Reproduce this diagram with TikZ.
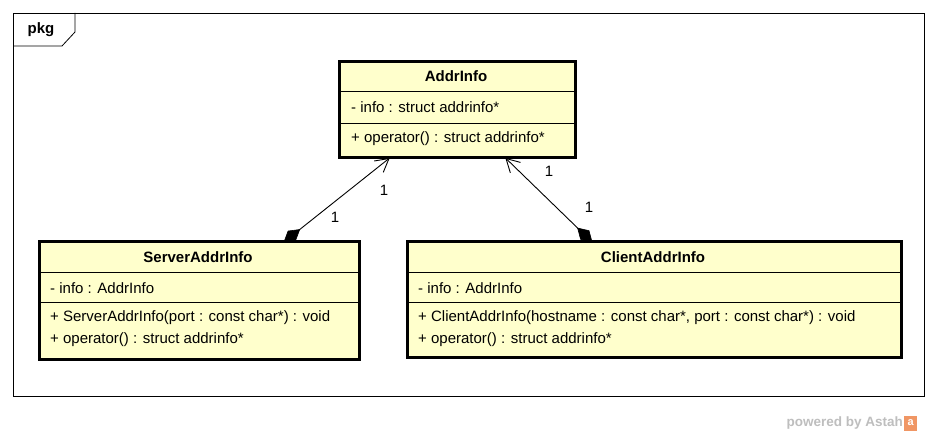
\documentclass[tikz,border=0pt]{standalone}
\usepackage{fontspec}
\setmainfont{Liberation Sans}
\usetikzlibrary{calc}
\definecolor{classfill}{RGB}{255,255,204}
\definecolor{astahgray}{RGB}{190,190,190}
\definecolor{astahorange}{RGB}{240,150,100}
\tikzset{
  cls/.style={draw=black, line width=2.6pt, fill=classfill, anchor=north west, inner sep=0pt},
  sepline/.style={line width=1pt},
  title/.style={font=\fontsize{15}{17}\selectfont\bfseries, inner sep=0pt},
  member/.style={font=\fontsize{15}{17}\selectfont, inner sep=0pt, anchor=west},
  mult/.style={font=\fontsize{15}{17}\selectfont, inner sep=0pt},
  assoc/.style={line width=0.9pt},
  diam/.style={fill=black, draw=black, line width=0.6pt, line join=miter},
}
\begin{document}
\begin{tikzpicture}[x=1pt,y=-1pt]
\useasboundingbox[fill=white] (0,0) rectangle (937,436);
% package frame
\draw[line width=0.8pt] (13,13) rectangle (924,396);
\draw[line width=0.8pt] (75,13) -- (75,32) -- (62,46) -- (13,46);
\node[title] (pkg) at (41,30) {pkg};

% connector end points
\coordinate (srvEnd) at (284,242);
\coordinate (addrS) at (389,158.5);
\coordinate (cliEnd) at (592,242);
\coordinate (addrC) at (506,158.5);
% server -> AddrInfo
\draw[diam] (srvEnd) -- ($(srvEnd)!11.7pt!31:(addrS)$) -- ($(srvEnd)!20pt!(addrS)$) -- ($(srvEnd)!11.7pt!-31:(addrS)$) -- cycle;
\draw[assoc] ($(srvEnd)!19pt!(addrS)$) -- (addrS);
\draw[assoc] ($(addrS)!15pt!29:(srvEnd)$) -- (addrS) -- ($(addrS)!15pt!-29:(srvEnd)$);
% client -> AddrInfo
\draw[diam] (cliEnd) -- ($(cliEnd)!11.7pt!31:(addrC)$) -- ($(cliEnd)!20pt!(addrC)$) -- ($(cliEnd)!11.7pt!-31:(addrC)$) -- cycle;
\draw[assoc] ($(cliEnd)!19pt!(addrC)$) -- (addrC);
\draw[assoc] ($(addrC)!15pt!29:(cliEnd)$) -- (addrC) -- ($(addrC)!15pt!-29:(cliEnd)$);
\node[mult] (m1) at (384,190) {1};
\node[mult] (m2) at (335,217) {1};
\node[mult] (m3) at (549,171) {1};
\node[mult] (m4) at (589,207) {1};

% AddrInfo
\node[cls, minimum width=236pt, minimum height=96pt] (addr) at (338,60) {};
\draw[sepline] (338,91) -- (574,91);
\draw[sepline] (338,123) -- (574,123);
\node[title] (addrT) at (456,76) {AddrInfo};
\node[member] (addrA) at (351,107) {- info : struct addrinfo*};
\node[member] (addrO) at (351,139) {+ operator() : struct addrinfo*};

% ServerAddrInfo
\node[cls, minimum width=320pt, minimum height=118pt] (srv) at (38,240) {};
\draw[sepline] (38,272) -- (358,272);
\draw[sepline] (38,302) -- (358,302);
\node[title] (srvT) at (198,257) {ServerAddrInfo};
\node[member] (srvA) at (50,288) {- info : AddrInfo};
\node[member] (srvO1) at (50,318) {+ ServerAddrInfo(port : const char*) : void};
\node[member] (srvO2) at (50,340) {+ operator() : struct addrinfo*};

% ClientAddrInfo
\node[cls, minimum width=494pt, minimum height=116pt] (cli) at (406,240) {};
\draw[sepline] (406,272) -- (900,272);
\draw[sepline] (406,302) -- (900,302);
\node[title] (cliT) at (653,257) {ClientAddrInfo};
\node[member] (cliA) at (418,288) {- info : AddrInfo};
\node[member] (cliO1) at (418,318) {+ ClientAddrInfo(hostname : const char*, port : const char*) : void};
\node[member] (cliO2) at (418,340) {+ operator() : struct addrinfo*};

% footer
\node[font=\fontsize{13.5}{15}\selectfont\bfseries, text=astahgray, anchor=east, inner sep=0pt] (pw) at (903,423) {powered by Astah};
\node[fill=astahorange, minimum width=13pt, minimum height=15pt, inner sep=0pt, anchor=west, text=white, font=\fontsize{11}{11}\selectfont\bfseries] (logo) at (904,423) {a};
\end{tikzpicture}
\end{document}
